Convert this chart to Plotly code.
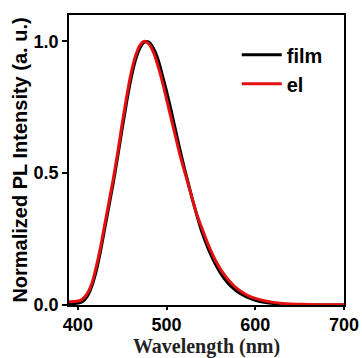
import plotly.graph_objects as go

wl = [390, 395, 400, 405, 410, 415, 420, 425, 430, 435, 440, 445, 450, 455, 460, 465, 470, 475,
      480, 485, 490, 495, 500, 505, 510, 515, 520, 525, 530, 535, 540, 545, 550, 555, 560, 565,
      570, 575, 580, 585, 590, 595, 600, 610, 620, 630, 640, 650, 660, 680, 700]

film = [0.005, 0.005, 0.007, 0.012, 0.03, 0.065, 0.12, 0.195, 0.285, 0.375, 0.465, 0.565, 0.67,
        0.77, 0.86, 0.93, 0.975, 0.997, 0.997, 0.975, 0.935, 0.875, 0.81, 0.74, 0.665, 0.59,
        0.52, 0.455, 0.39, 0.33, 0.275, 0.23, 0.19, 0.155, 0.125, 0.1, 0.08, 0.064, 0.05, 0.04,
        0.031, 0.024, 0.018, 0.01, 0.006, 0.003, 0.002, 0.001, 0.0, 0.0, 0.0]

el = [0.012, 0.013, 0.015, 0.022, 0.04, 0.075, 0.135, 0.21, 0.30, 0.39, 0.48, 0.58, 0.69, 0.79,
      0.88, 0.945, 0.985, 1.0, 0.99, 0.96, 0.91, 0.85, 0.78, 0.71, 0.64, 0.57, 0.51, 0.45, 0.39,
      0.335, 0.29, 0.245, 0.205, 0.17, 0.14, 0.115, 0.094, 0.076, 0.061, 0.049, 0.039, 0.031,
      0.025, 0.016, 0.010, 0.006, 0.004, 0.003, 0.002, 0.001, 0.001]

x_ticks = [400, 500, 600, 700]
y_ticks = [0.0, 0.5, 1.0]

fig = go.Figure()
fig.add_trace(go.Scatter(x=wl, y=film, mode="lines", name="film",
                         line=dict(color="black", width=3, shape="spline")))
fig.add_trace(go.Scatter(x=wl, y=el, mode="lines", name="el",
                         line=dict(color="#e31010", width=3, shape="spline")))

axis_common = dict(showline=True, linecolor="black", linewidth=1.5, mirror=True,
                   showgrid=False, zeroline=False, ticks="outside", tickcolor="black",
                   tickwidth=1.5, automargin=False,
                   tickfont=dict(family="Liberation Sans, Arial", size=18, color="black",
                                 weight="bold"))

fig.update_layout(
    width=362, height=358,
    margin=dict(l=69, r=18, t=15, b=53),
    paper_bgcolor="white", plot_bgcolor="white",
    showlegend=True,
    legend=dict(x=0.61, y=0.93, xanchor="left", yanchor="top",
                bgcolor="rgba(0,0,0,0)", tracegroupgap=0,
                font=dict(family="Liberation Sans, Arial", size=20, color="black",
                          weight="bold"),
                itemwidth=40),
    xaxis=dict(range=[390, 700], tickvals=x_ticks, ticklen=3,
               title=dict(text="Wavelength (nm)", standoff=0,
                          font=dict(family="Liberation Serif, Times New Roman", size=20,
                                    color="#222", weight="bold")),
               **axis_common),
    yaxis=dict(range=[0, 1.1], tickvals=y_ticks, tickformat=".1f", ticklen=5,
               title=dict(text="Normalized PL Intensity (a. u.)", standoff=1,
                          font=dict(family="Liberation Sans, Arial", size=20, color="black",
                                    weight="bold")),
               **axis_common),
)

fig.write_html("out.html")
